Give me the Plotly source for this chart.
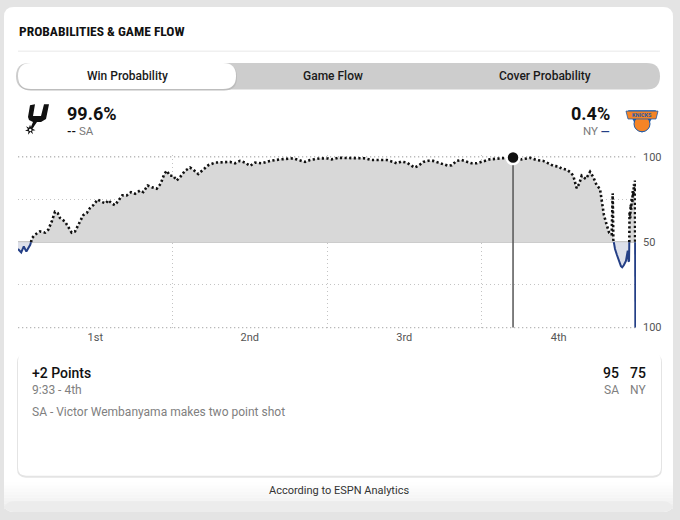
import plotly.graph_objects as go

# ---------------- data ----------------
minutes = [0, 0.25, 0.45, 0.65, 0.95, 1.10, 1.32, 1.71, 2.10, 2.35, 2.62, 2.87, 3.08, 3.26, 3.65,
           3.91, 4.17, 4.43, 4.82, 5.07, 5.34, 5.59, 5.85, 6.19, 6.50, 6.81, 7.01, 7.28, 7.53,
           7.84, 8.10, 8.44, 8.78, 9.09, 9.48, 9.73, 10.07, 10.38, 10.77, 11.08, 11.36, 11.55,
           11.81, 12.06, 12.32, 12.58, 12.97, 13.36, 13.62, 14.00, 14.39, 14.78, 15.30, 15.95,
           16.47, 16.85, 17.24, 17.63, 18.02, 18.41, 18.93, 19.57, 20.35, 21.38, 21.90, 22.29,
           22.68, 23.46, 24.10, 24.36, 24.88, 25.40, 26.17, 26.95, 27.47, 27.98, 28.64, 29.15,
           29.41, 29.80, 30.19, 30.52, 30.78, 31.09, 31.48, 31.87, 32.26, 32.65, 33.03, 33.42,
           33.69, 34.07, 34.46, 34.85, 35.24, 35.63, 36.02, 36.27, 36.66, 37.18, 37.70, 38.45,
           39.12, 39.77, 40.29, 40.80, 41.19, 41.58, 41.97, 42.23, 42.62, 42.93, 43.13, 43.39,
           43.59, 43.78, 44.11, 44.43, 44.69, 44.95, 45.20, 45.34, 45.51, 45.72, 45.92, 46.11,
           46.19, 46.24, 46.37, 46.52, 46.68, 46.83, 46.93, 47.05, 47.22, 47.30, 47.36, 47.42,
           47.46, 47.48, 47.50, 47.55, 47.59, 47.63, 47.67, 47.71, 47.75, 47.79, 47.84, 47.88,
           47.92, 47.95]
sa_win_pct = [46.0, 44.0, 47.5, 44.5, 48.5, 52.5, 54.4, 56.3, 55.6, 57.3, 62.1, 67.8, 67.1, 64.2, 62.1,
              59.2, 55.6, 56.3, 62.1, 65.9, 67.1, 70.0, 71.7, 75.0, 73.6, 72.7, 74.6, 72.7, 71.7,
              74.6, 77.4, 77.4, 79.3, 78.4, 80.3, 79.3, 83.2, 82.2, 81.3, 84.2, 89.9, 91.8,
              88.9, 88.9, 86.1, 88.0, 91.8, 93.7, 92.4, 89.9, 92.8, 95.1, 96.6, 97.0,
              97.0, 96.2, 97.6, 96.6, 94.7, 96.6, 96.2, 97.6, 98.5, 99.1, 98.1, 97.0,
              98.1, 99.1, 99.0, 98.5, 99.4, 99.4, 99.4, 99.1, 98.1, 98.1, 98.1, 97.0,
              96.2, 97.2, 96.6, 95.1, 93.7, 94.7, 97.0, 97.7, 97.6, 96.6, 95.7, 94.7,
              95.1, 97.6, 98.1, 97.0, 96.2, 96.2, 97.0, 97.6, 98.5, 98.9, 99.3, 99.6,
              98.5, 99.4, 98.1, 97.6, 96.2, 94.7, 94.3, 93.1, 92.4, 90.8, 88.9, 81.6,
              84.2, 88.9, 87.0, 91.2, 88.0, 83.2, 81.3, 73.6, 65.9, 60.2, 55.4, 54.4,
              78.6, 51.5, 46.0, 42.5, 38.5, 36.0, 35.3, 36.5, 39.1, 44.0, 45.1, 39.0,
              38.7, 50.5, 67.8, 64.0, 72.0, 69.0, 76.0, 73.0, 80.0, 77.0, 84.0, 81.0,
              86.1, 0.0]

quarter_labels = ["1st", "2nd", "3rd", "4th"]
quarter_centers = [6, 18, 30, 42]
quarter_breaks = [12, 24, 36]
axis_values = [-50, 0, 50]
axis_text = ["100", "50", "100"]
grid_values = [-50, -25, 25, 50]

sel_minute = 38.45
sel_wp = 99.6
home_team, away_team = "SA", "NY"
home_pct, away_pct = "99.6%", "0.4%"
play_title = "+2 Points"
play_time = "9:33 - 4th"
play_text = "SA - Victor Wembanyama makes two point shot"
home_score, away_score = 95, 75
tabs = ["Win Probability", "Game Flow", "Cover Probability"]

# ---------------- helpers ----------------
W, H = 680, 520
def fx(x): return x / W
def fy(y): return 1 - y / H

def rrect(x0, y0, x1, y1, r):
    return (f"M {fx(x0+r)},{fy(y0)} L {fx(x1-r)},{fy(y0)} Q {fx(x1)},{fy(y0)} {fx(x1)},{fy(y0+r)} "
            f"L {fx(x1)},{fy(y1-r)} Q {fx(x1)},{fy(y1)} {fx(x1-r)},{fy(y1)} "
            f"L {fx(x0+r)},{fy(y1)} Q {fx(x0)},{fy(y1)} {fx(x0)},{fy(y1-r)} "
            f"L {fx(x0)},{fy(y0+r)} Q {fx(x0)},{fy(y0)} {fx(x0+r)},{fy(y0)} Z")

def poly(pts):
    return "M " + " L ".join(f"{fx(a)},{fy(b)}" for a, b in pts) + " Z"

# split series at the 50% line
d = [v - 50 for v in sa_win_pct]
X, Y = [minutes[0]], [d[0]]
for i in range(1, len(minutes)):
    a, b = d[i - 1], d[i]
    if a * b < 0:
        X.append(minutes[i - 1] + (minutes[i] - minutes[i - 1]) * (-a) / (b - a))
        Y.append(0.0)
    X.append(minutes[i]); Y.append(b)
above = [max(v, 0) for v in Y]
below = [min(v, 0) for v in Y]
above_line = [v if v >= 0 else None for v in Y]
below_line = [v if v <= 0 else None for v in Y]

NAVY = "#243f86"
GRID = "#c4c4c4"
fig = go.Figure()
fig.add_trace(go.Scatter(x=X, y=above, mode="lines", line=dict(width=0), fill="tozeroy",
                         fillcolor="#d8d8d8", hoverinfo="skip"))
fig.add_trace(go.Scatter(x=X, y=below, mode="lines", line=dict(width=0), fill="tozeroy",
                         fillcolor="#dde0ea", hoverinfo="skip"))
# edge gridlines (top = 100 SA, bottom = 100 NY) as light dotted lines
for gv in (grid_values[0], grid_values[-1]):
    fig.add_trace(go.Scatter(x=[0, 48], y=[gv, gv], mode="lines", hoverinfo="skip",
                             cliponaxis=False, line=dict(color="#b8b8b8", width=1.3,
                                                         dash="1.3px,2.7px")))
fig.add_trace(go.Scatter(x=X, y=above_line, mode="lines", connectgaps=False,
                         line=dict(color="#111111", width=2.6, dash="2.2px,2.4px")))
fig.add_trace(go.Scatter(x=X, y=below_line, mode="lines", connectgaps=False,
                         line=dict(color=NAVY, width=2)))
fig.add_trace(go.Scatter(x=[sel_minute, sel_minute], y=[-50, sel_wp - 50], mode="lines",
                         yaxis="y2", line=dict(color="#555555", width=1.5)))
fig.add_trace(go.Scatter(x=[sel_minute], y=[sel_wp - 50], mode="markers", cliponaxis=False,
                         yaxis="y2",
                         marker=dict(size=13, color="#111111", line=dict(color="white", width=2.5))))

shapes = []
# outer card
shapes.append(dict(type="path", path=rrect(4, 3, 673, 517, 10), xref="paper", yref="paper",
                   fillcolor="white", line=dict(width=0), layer="below"))
# bottom fade
fade = ["#fefefe", "#fcfcfc", "#fafafa", "#f8f8f8", "#f6f6f6", "#f4f4f4", "#f2f2f2",
        "#f0f0f0", "#eeeeee", "#ececec"]
for i, c in enumerate(fade):
    y0 = 487 + i * 3
    if i < len(fade) - 1:
        shapes.append(dict(type="rect", x0=fx(4), x1=fx(673), y0=fy(y0), y1=fy(y0 + 3),
                           xref="paper", yref="paper", fillcolor=c, line=dict(width=0), layer="below"))
    else:
        shapes.append(dict(type="path", path=rrect(4, y0 - 8, 673, 517, 10), xref="paper",
                           yref="paper", fillcolor=c, line=dict(width=0), layer="below"))
# separator
shapes.append(dict(type="line", x0=fx(18), x1=fx(660), y0=fy(48), y1=fy(48), xref="paper",
                   yref="paper", line=dict(color="#e8e8e8", width=1), layer="below"))
# toggle
shapes.append(dict(type="path", path=rrect(16, 60, 660, 87, 13.5), xref="paper", yref="paper",
                   fillcolor="#cdcdcd", line=dict(width=0), layer="below"))
shapes.append(dict(type="path", path=rrect(18, 61, 237, 88, 13), xref="paper", yref="paper",
                   fillcolor="#bdbdbd", line=dict(width=0), layer="below"))
shapes.append(dict(type="path", path=rrect(18, 60, 236, 86.5, 13), xref="paper", yref="paper",
                   fillcolor="white", line=dict(width=0), layer="below"))
# bottom card (shadow + card)
shapes.append(dict(type="path", path=rrect(17, 356, 662, 482, 9), xref="paper", yref="paper",
                   fillcolor="#e4e4e4", line=dict(width=0), layer="below"))
shapes.append(dict(type="path", path=rrect(18, 355, 661, 480, 8), xref="paper", yref="paper",
                   fillcolor="white", line=dict(width=0), layer="below"))
# spurs logo
shapes.append(dict(type="path", xref="paper", yref="paper", fillcolor="#111111", line=dict(width=0),
                   path=poly([(30, 103), (35, 102), (33, 114), (41, 114), (44, 102), (49, 102),
                              (46, 117), (41, 120), (37, 120), (33, 126), (31, 125), (33, 120),
                              (29, 118), (28, 115)])))
shapes.append(dict(type="path", xref="paper", yref="paper", fillcolor="#111111", line=dict(width=0),
                   path=poly([(30, 123), (31, 125.5), (34, 124), (32.5, 127), (35.5, 128.5),
                              (32, 129), (33, 132.5), (30.5, 130), (28, 133), (28.5, 129.5),
                              (25, 129), (28, 127.5), (26, 124.5), (29, 126)])))
shapes.append(dict(type="circle", xref="paper", yref="paper", x0=fx(29), x1=fx(31.5),
                   y0=fy(129.5), y1=fy(127), fillcolor="white", line=dict(width=0)))
# knicks logo
shapes.append(dict(type="path", xref="paper", yref="paper", fillcolor="#1d5aa8", line=dict(width=0),
                   path=poly([(628, 108), (656, 108), (650, 120), (642, 131), (634, 120)])))
shapes.append(dict(type="circle", xref="paper", yref="paper", x0=fx(634), x1=fx(650),
                   y0=fy(130), y1=fy(114), fillcolor="#f58426", line=dict(color="#1d5aa8", width=1)))
shapes.append(dict(type="path", xref="paper", yref="paper", fillcolor="#f58426",
                   line=dict(color="#1d5aa8", width=0.8),
                   path=poly([(626, 109), (658, 109), (656, 117), (628, 117)])))

FONT = "Roboto, Arial, sans-serif"
ann = []
def text(x, y, s, size=12, color="#111111", anchor="left", weight="normal", family=FONT):
    ann.append(dict(x=fx(x), y=fy(y), xref="paper", yref="paper", text=s, showarrow=False,
                    xanchor=anchor, yanchor="middle",
                    font=dict(size=size, color=color, family=family, weight=weight)))

text(17, 27, "PROBABILITIES & GAME FLOW", 13.5, "#111111", weight="bold",
     family="'Roboto Condensed', 'DejaVu Sans Condensed', Roboto, sans-serif")
text(127, 73, tabs[0], 12, "#1a1a1a", "center", weight=500)
text(333, 73, tabs[1], 12, "#1a1a1a", "center", weight=500)
text(545, 73, tabs[2], 12, "#1a1a1a", "center", weight=500)
text(65, 111, home_pct, 18, "#111111", weight="bold")
text(65, 129, "<b>--</b> <span style='color:#7a7a7a'>" + home_team + "</span>", 11.5, "#111111")
text(612, 111, away_pct, 18, "#111111", "right", weight="bold")
text(612, 129, "<span style='color:#7a7a7a'>" + away_team + "</span> <span style='color:" + NAVY
     + "'><b>—</b></span>", 11.5, NAVY, "right")
text(642, 113, "<b>KNICKS</b>", 5.5, "#1d5aa8", "center")
text(30, 375, play_title, 14, "#111111", weight=500)
text(30, 393, play_time, 12, "#808080")
text(30, 415, play_text, 12, "#808080")
text(621, 375, str(home_score), 14, "#111111", "right", weight=500)
text(648, 375, str(away_score), 14, "#111111", "right", weight=500)
text(621, 393, home_team, 12, "#808080", "right")
text(648, 393, away_team, 12, "#808080", "right")
text(339, 495, "According to ESPN Analytics", 11, "#333333", "center")

pad = 1.0
ppu = (329.3 - 155.5) / 100
ydom = [fy(329.3 + pad * ppu), fy(155.5 - pad * ppu)]
yrng = [-50 - pad, 50 + pad]
fig.update_layout(
    width=W, height=H, margin=dict(l=0, r=0, t=0, b=0),
    paper_bgcolor="#e4e4e4", plot_bgcolor="rgba(0,0,0,0)",
    showlegend=False, shapes=shapes, annotations=ann,
    font=dict(family=FONT),
    xaxis=dict(domain=[fx(18), fx(636)], range=[0, 48], tickmode="array",
               tickvals=quarter_centers, ticktext=quarter_labels, showgrid=False, zeroline=False,
               showline=False, ticks="", tickfont=dict(size=11, color="#555555"),
               minor=dict(tickmode="array", tickvals=quarter_breaks, showgrid=True,
                          griddash="1px,3px", gridcolor=GRID, gridwidth=1, ticks="")),
    yaxis=dict(domain=ydom, range=yrng, tickmode="array", tickvals=grid_values,
               showticklabels=False, showgrid=True, griddash="1px,3px",
               gridcolor=GRID, gridwidth=1, zeroline=True,
               zerolinecolor="#c8c8c8", zerolinewidth=2, showline=False, ticks=""),
    yaxis2=dict(overlaying="y", matches="y", side="right", tickmode="array",
                tickvals=axis_values, ticktext=axis_text, showgrid=False, zeroline=False,
                showline=False, ticks="", ticklabelstandoff=6,
                tickfont=dict(size=11, color="#555555")),
)
fig.write_html("out.html", config={"displayModeBar": False},
               post_script="document.body.style.margin='0';document.body.style.overflow='hidden';")
